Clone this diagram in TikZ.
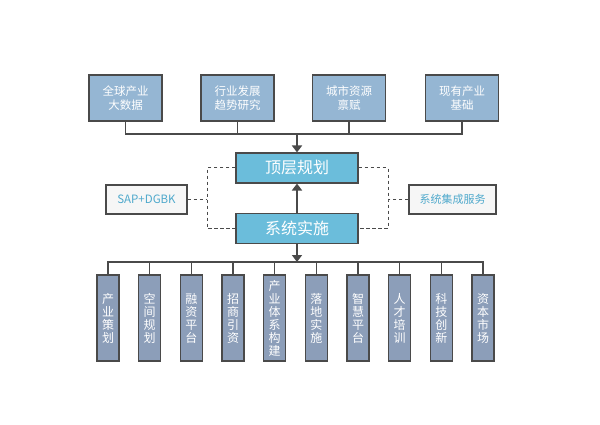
\documentclass[tikz,border=0pt]{standalone}
\usepackage{fontspec}
\setmainfont{Noto Sans CJK SC}
\usetikzlibrary{arrows.meta}
\definecolor{topfill}{HTML}{95B6D3}
\definecolor{midfill}{HTML}{6BBDDB}
\definecolor{botfill}{HTML}{8C9EB9}
\definecolor{edge}{HTML}{4A4A4A}
\definecolor{sidetext}{HTML}{4FA9CC}
\definecolor{sidefill}{HTML}{F6F6F6}
\tikzset{
  topbox/.style={draw=edge, line width=1.1pt, fill=topfill, text=white, minimum width=73pt, minimum height=46pt, inner sep=0pt, align=center, font=\fontsize{11.5}{14.5}\selectfont},
  midbox/.style={draw=edge, line width=1.1pt, fill=midfill, text=white, minimum width=122pt, minimum height=30pt, inner sep=0pt, font=\fontsize{16}{18}\selectfont},
  sidebox/.style={draw=edge, line width=1.1pt, fill=sidefill, text=sidetext, minimum height=29pt, inner sep=0pt},
  botbox/.style={draw=edge, line width=1.1pt, fill=botfill, text=white, minimum width=22pt, minimum height=86pt, inner sep=0pt, align=center, font=\fontsize{12}{13}\selectfont},
  conn/.style={draw=edge, line width=1.3pt},
  bigarrow/.style={draw=edge, line width=2.8pt, -{Triangle[width=10pt,length=7pt]}},
  dashline/.style={draw=edge, line width=1pt, dash pattern=on 3.5pt off 2.5pt}
}
\begin{document}
\begin{tikzpicture}[x=1pt,y=-1pt]
\useasboundingbox (0,0) rectangle (600,425);
\fill[white] (0,0) rectangle (600,425);
% top boxes
\node[topbox] (t1) at (125.5,98) {全球产业\\大数据};
\node[topbox] (t2) at (237.5,98) {行业发展\\趋势研究};
\node[topbox] (t3) at (349,98) {城市资源\\禀赋};
\node[topbox] (t4) at (462,98) {现有产业\\基础};
\coordinate (tbus) at (297,134);
\draw[conn] (t1.south) |- (tbus) -| (t4.south);
\draw[conn] (t2.south) -- (t2.south |- tbus);
\draw[conn] (t3.south) -- (t3.south |- tbus);
% middle
\node[midbox] (p) at (297,168) {顶层规划};
\node[midbox] (s) at (297,228.5) {系统实施};
\draw[bigarrow] (tbus) -- (p.north);
\draw[bigarrow] (s.north) -- (p.south);
% side boxes
\node[sidebox, minimum width=81pt, font=\fontsize{11.5}{13}\selectfont] (sap) at (146.5,199.5) {SAP+DGBK};
\node[sidebox, minimum width=87pt, font=\fontsize{11}{13}\selectfont] (sis) at (452.5,199.5) {系统集成服务};
\coordinate (lx) at (207,199.5);
\coordinate (rx) at (388,199.5);
\draw[dashline] (p.west) -| (lx) |- (s.west);
\draw[dashline] (p.east) -| (rx) |- (s.east);
\draw[dashline] (sap.east) -- (lx);
\draw[dashline] (sis.west) -- (rx);
% bottom
\node[botbox] (b1) at (108,318) {产\\业\\策\\划};
\node[botbox] (b2) at (149.7,318) {空\\间\\规\\划};
\node[botbox] (b3) at (191.3,318) {融\\资\\平\\台};
\node[botbox] (b4) at (233,318) {招\\商\\引\\资};
\node[botbox] (b5) at (274.7,318) {产\\业\\体\\系\\构\\建};
\node[botbox] (b6) at (316.3,318) {落\\地\\实\\施};
\node[botbox] (b7) at (358,318) {智\\慧\\平\\台};
\node[botbox] (b8) at (399.7,318) {人\\才\\培\\训};
\node[botbox] (b9) at (441.3,318) {科\\技\\创\\新};
\node[botbox] (b10) at (483,318) {资\\本\\市\\场};
\coordinate (bbus) at (297,262);
\draw[bigarrow] (s.south) -- (bbus);
\draw[conn] (b1.north) |- (bbus) -| (b10.north);
\foreach \i in {2,...,9} { \draw[conn] (b\i.north) -- (b\i.north |- bbus); }
\end{tikzpicture}
\end{document}
